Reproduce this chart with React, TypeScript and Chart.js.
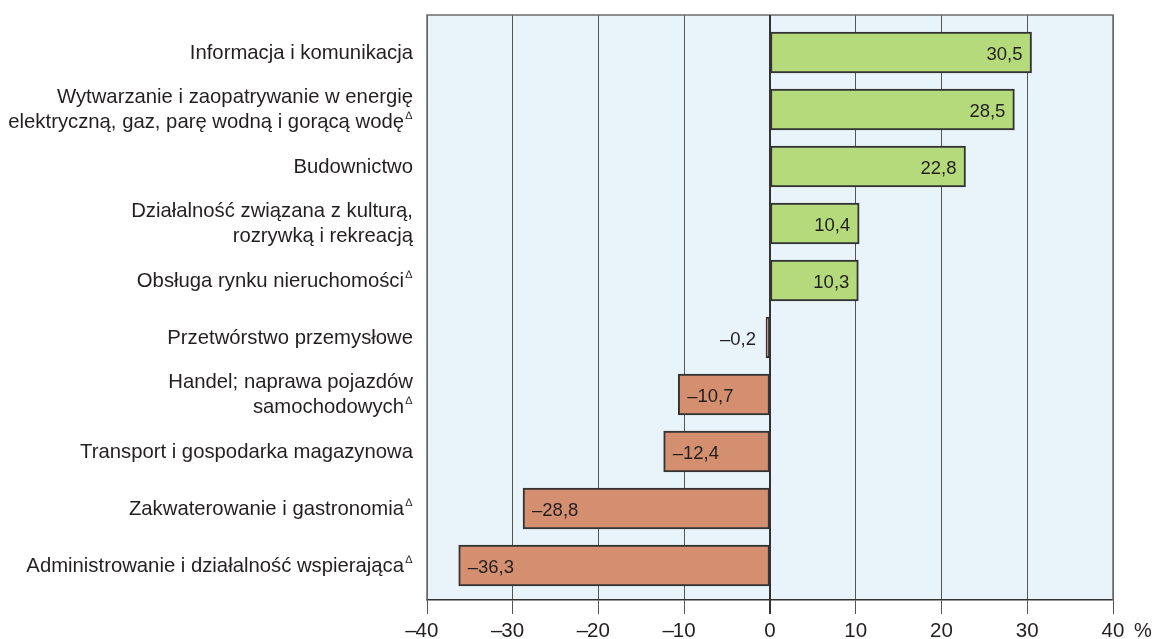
import React, { useEffect, useRef } from "react";
import { Chart, registerables } from "chart.js";

Chart.register(...registerables);

const categories: string[][] = [
  ["Informacja i komunikacja"],
  ["Wytwarzanie i zaopatrywanie w energię", "elektryczną, gaz, parę wodną i gorącą wodę"],
  ["Budownictwo"],
  ["Działalność związana z kulturą,", "rozrywką i rekreacją"],
  ["Obsługa rynku nieruchomości"],
  ["Przetwórstwo przemysłowe"],
  ["Handel; naprawa pojazdów", "samochodowych"],
  ["Transport i gospodarka magazynowa"],
  ["Zakwaterowanie i gastronomia"],
  ["Administrowanie i działalność wspierająca"],
];
const deltaMarks = [false, true, false, false, true, false, true, false, true, true];
const values = [30.5, 28.5, 22.8, 10.4, 10.3, -0.2, -10.7, -12.4, -28.8, -36.3];
const xTicks = [-40, -30, -20, -10, 0, 10, 20, 30, 40];
const unitLabel = "%";

const FONT = '"Liberation Sans", Arial, sans-serif';
const TEXT = "#231f20";
const POS_FILL = "#b5da7b";
const NEG_FILL = "#d38f6f";

const fmt = (v: number) => {
  const s = Math.abs(v).toFixed(1).replace(".", ",");
  return v < 0 ? "–" + s : s;
};

export default function App() {
  const ref = useRef<HTMLCanvasElement>(null);
  useEffect(() => {
    document.body.style.margin = "0";
    const bgPlugin = {
      id: "bg",
      beforeDraw(chart: any) {
        const { ctx, chartArea: a } = chart;
        ctx.save();
        ctx.fillStyle = "#e8f3fa";
        ctx.fillRect(a.left, a.top, a.right - a.left, a.bottom - a.top);
        ctx.restore();
      },
      afterDraw(chart: any) {
        const { ctx, chartArea: a } = chart;
        ctx.save();
        ctx.strokeStyle = "#6b6b6b";
        ctx.lineWidth = 1.5;
        ctx.beginPath();
        ctx.moveTo(a.left, a.bottom);
        ctx.lineTo(a.left, a.top);
        ctx.lineTo(a.right, a.top);
        ctx.lineTo(a.right, a.bottom);
        ctx.stroke();
        const x0 = chart.scales.x.getPixelForValue(0);
        ctx.strokeStyle = "#333";
        ctx.lineWidth = 2;
        ctx.beginPath();
        ctx.moveTo(x0, a.top);
        ctx.lineTo(x0, a.bottom + 14);
        ctx.stroke();
        ctx.restore();
      },
    };
    const labelPlugin = {
      id: "labels",
      afterDatasetsDraw(chart: any) {
        const { ctx } = chart;
        const ys = chart.scales.y;
        const xs = chart.scales.x;
        const meta = chart.getDatasetMeta(0);
        ctx.save();
        ctx.fillStyle = TEXT;
        ctx.textBaseline = "middle";
        const rightEdge = 413;
        categories.forEach((lines, i) => {
          const cy = ys.getPixelForValue(i) + 0.5;
          const lh = 25;
          const startY = cy - ((lines.length - 1) * lh) / 2;
          lines.forEach((ln, j) => {
            const y = startY + j * lh;
            const isLast = j === lines.length - 1;
            ctx.font = `20.3px ${FONT}`;
            ctx.textAlign = "right";
            if (isLast && deltaMarks[i]) {
              ctx.fillText(ln, rightEdge - 9, y);
              ctx.font = `11px ${FONT}`;
              ctx.textAlign = "left";
              ctx.fillText("∆", rightEdge - 7.5, y - 6.5);
            } else {
              ctx.fillText(ln, rightEdge, y);
            }
          });
        });
        ctx.font = `18.5px ${FONT}`;
        meta.data.forEach((bar: any, i: number) => {
          const v = values[i];
          const y = bar.y + 2.5;
          if (v >= 0) {
            ctx.textAlign = "right";
            ctx.fillText(fmt(v), bar.x - 9, y);
          } else if (Math.abs(bar.x - bar.base) < 40) {
            ctx.textAlign = "right";
            ctx.fillText(fmt(v), bar.x - 10, y);
          } else {
            ctx.textAlign = "left";
            ctx.fillText(fmt(v), bar.x + 9, y);
          }
        });
        // x tick labels: number centred on tick, dash hanging to the left
        ctx.font = `20.5px ${FONT}`;
        const ty = 631;
        xTicks.forEach((t) => {
          const px = xs.getPixelForValue(t);
          const num = String(Math.abs(t));
          const w = ctx.measureText(num).width;
          ctx.textAlign = "left";
          ctx.fillText(num, px - w / 2, ty);
          if (t < 0) {
            ctx.textAlign = "right";
            ctx.fillText("–", px - w / 2 + 1, ty);
          }
        });
        ctx.textAlign = "left";
        ctx.font = `20px ${FONT}`;
        ctx.fillText(unitLabel, 1134, ty);
        ctx.restore();
      },
    };
    const chart = new Chart(ref.current!, {
      type: "bar",
      data: {
        datasets: [
          {
            data: values.map((v, i) => ({ x: v, y: i })) as any,
            backgroundColor: values.map((v) => (v >= 0 ? POS_FILL : NEG_FILL)),
            borderColor: "#333333",
            borderWidth: 2,
            borderSkipped: false,
            barThickness: 41,
            minBarLength: 4,
          },
        ],
      },
      options: {
        indexAxis: "y",
        animation: false,
        responsive: false,
        maintainAspectRatio: false,
        layout: { padding: { left: 427, right: 42, top: 15, bottom: 0 } },
        plugins: { legend: { display: false }, tooltip: { enabled: false } },
        scales: {
          y: {
            type: "linear",
            reverse: true,
            offset: false,
            grace: 0,
            min: -0.658,
            max: 9.605,
            display: false,
          },
          x: {
            type: "linear",
            min: -40,
            max: 40,
            afterBuildTicks: (s: any) => {
              s.ticks = xTicks.map((v) => ({ value: v }));
            },
            afterFit: (s: any) => {
              s.height = 39;
            },
            grid: {
              color: "#555555",
              lineWidth: 1,
              tickLength: 14,
              drawTicks: true,
            },
            border: { display: true, color: "#333333", width: 1.5 },
            ticks: {
              display: false,
            },
          },
        },
      } as any,
      plugins: [bgPlugin, labelPlugin],
    });
    return () => chart.destroy();
  }, []);
  return (
    <div style={{ width: 1155, height: 639 }}>
      <canvas ref={ref} width={1155} height={639} style={{ display: "block" }} />
    </div>
  );
}
